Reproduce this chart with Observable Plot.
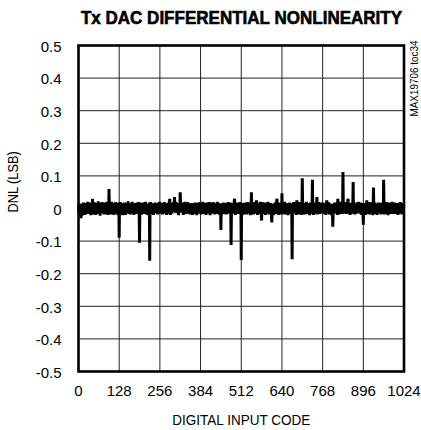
<!DOCTYPE html>
<html>
<head>
<meta charset="utf-8">
<script src="https://cdn.jsdelivr.net/npm/d3@7"></script>
<script src="https://cdn.jsdelivr.net/npm/@observablehq/plot@0.6"></script>
<style>
  html, body { margin: 0; padding: 0; background: #fff; }
  #chart { position: relative; width: 421px; height: 430px; }
  #title {
    position: absolute; top: 8px; left: 62px; width: 359px;
    height: 20px; line-height: 20px; text-align: center; white-space: nowrap;
    font-family: 'Liberation Sans', Arial, Helvetica, sans-serif;
    font-weight: bold; font-size: 18.5px; color: #000;
    -webkit-text-stroke: 0.6px #000;
    transform: scaleX(0.92); transform-origin: 50% 50%;
  }
</style>
</head>
<body>
<div id="chart"><div id="title"></div></div>
<script>
// ---- data ----
const title = "Tx DAC DIFFERENTIAL NONLINEARITY";
const xLabel = "DIGITAL INPUT CODE";
const yLabel = "DNL (LSB)";
const tag = "MAX19706 toc34";
const xTicks = [0, 128, 256, 384, 512, 640, 768, 896, 1024];
const yTicks = [-0.5, -0.4, -0.3, -0.2, -0.1, 0, 0.1, 0.2, 0.3, 0.4, 0.5];
const yTickLabels = ["-0.5", "-0.4", "-0.3", "-0.2", "-0.1", "0", "0.1", "0.2", "0.3", "0.4", "0.5"];

// small code-to-code DNL for codes 0..1023, in counts of noiseUnit LSB
const noiseUnit = 0.0013;
const noise = [
5,-8,12,-3,-14,9,2,-11,15,-6,3,-17,8,11,-4,-9,14,-12,1,7,-15,10,-2,6,-10,13,-7,4,-13,16,-5,0,
-9,11,-4,14,-12,3,8,-16,6,-1,12,-8,10,-14,2,9,-6,15,-11,4,-3,13,-15,7,-7,1,11,-13,5,-10,17,-2,
8,-12,3,10,-17,6,-5,13,-9,2,15,-4,-11,9,-1,12,-14,5,7,-8,14,-10,0,11,-6,-13,16,-3,4,-15,9,-7,
12,-5,-10,7,1,-14,11,-2,16,-9,4,-12,13,-6,8,-15,3,10,-1,-11,15,-7,6,-13,2,12,-8,9,-16,5,-4,14,
-3,9,-13,6,15,-8,-1,11,-12,4,10,-16,7,-5,13,-2,-10,14,-7,3,-15,8,12,-4,-11,6,1,-9,17,-6,2,-13,
10,-4,7,-14,3,12,-9,5,-1,16,-11,8,-6,2,-15,13,4,-8,11,-3,9,-13,6,-2,14,-10,-5,12,-7,1,15,-12,
-6,13,2,-10,8,-15,11,-3,5,-12,14,-7,0,9,-13,6,12,-5,-9,16,-2,7,-14,10,-4,3,11,-16,8,-1,-11,14,
7,-2,-12,15,-6,4,10,-13,1,8,-9,12,-15,3,6,-4,-11,14,-8,2,13,-10,5,-7,9,-14,12,-1,4,-12,16,-6,
-11,6,14,-5,-9,11,-3,8,-14,2,13,-10,7,-6,15,-1,3,-12,9,-4,11,-15,1,12,-8,5,-3,14,-13,7,10,-9,
4,-15,9,1,-7,13,-12,6,10,-3,-8,15,-5,11,-14,2,7,-10,16,-6,3,-11,8,-1,13,-9,5,-16,11,-4,2,9,
-13,8,-2,11,5,-10,14,-7,-4,12,-15,3,9,-1,-12,16,-6,4,10,-13,2,7,-9,15,-3,-11,6,12,-8,1,-14,10,
6,-9,13,-4,-11,7,1,-15,12,-6,3,10,-13,8,-2,14,-10,5,-7,11,-16,4,13,-5,0,9,-12,6,15,-8,-3,11,
-7,12,-14,5,9,-3,-10,16,-1,-13,8,4,-9,13,-6,2,11,-15,7,-2,14,-8,3,-11,10,-5,-12,15,-4,6,-16,8,
11,-1,-8,14,-12,6,3,-9,15,-4,-11,9,2,-14,12,-7,5,8,-13,1,-6,16,-10,4,-2,13,-9,7,-15,10,-3,12,
-5,10,-16,3,12,-7,8,-13,-2,14,-10,5,11,-4,-9,7,-14,1,13,-6,9,-12,4,15,-8,2,-11,6,-3,14,-13,0,
9,-14,5,-6,13,-2,-12,10,4,-8,16,-11,1,7,-15,12,-3,-9,11,-5,14,-1,-13,8,6,-10,12,-4,-7,15,-12,3,
-12,4,11,-9,6,-15,13,-1,-7,10,2,-13,14,-5,8,-10,12,-3,-14,9,-6,15,-2,5,-11,7,13,-8,3,-16,9,-4,
8,-6,-10,13,-3,11,-14,5,9,-12,4,15,-8,1,-11,14,-5,6,10,-15,12,-2,-7,9,3,-13,11,-1,16,-9,5,-12,
-2,15,-9,6,-13,1,12,-6,-10,8,14,-4,-15,10,-1,7,13,-11,3,-8,16,-5,9,-14,2,11,-7,4,-12,13,-4,-9,
13,-7,2,-12,9,5,-16,11,-3,-9,14,-6,8,-13,4,10,-8,15,-2,-10,6,12,-15,3,-5,9,-11,14,0,-7,11,-14,
-8,3,14,-11,-4,12,-6,9,16,-14,1,7,-10,13,-3,-12,10,-5,8,-16,11,2,-9,14,-6,4,-13,9,12,-2,-10,6,
10,-13,6,1,-9,15,-4,-11,7,12,-7,-2,14,-15,5,9,-12,3,11,-6,-1,13,-14,8,15,-8,-4,10,-11,2,7,-15,
-4,11,-12,8,13,-10,2,-6,-14,9,5,-1,-8,16,-11,4,6,-13,12,-3,-9,10,1,-16,11,-5,14,-9,3,8,-12,13,
3,-10,9,-15,7,-1,11,-12,14,-3,-6,13,-9,2,10,-14,8,-7,-4,15,-12,6,9,-2,-13,12,-5,1,-10,14,-6,7,
-10,14,-3,-8,12,-13,5,10,-6,1,-15,11,4,-9,13,-2,-11,8,15,-7,2,-14,12,-4,7,-12,3,9,-16,6,11,-5,
12,-6,-13,9,2,-11,14,-8,5,13,-4,-10,11,-1,-15,8,3,-9,12,-14,7,10,-6,1,-12,16,-3,-7,9,-13,4,12,
-14,7,10,-2,-12,6,-5,15,-9,3,12,-13,1,8,-10,14,-4,-11,6,13,-8,2,-15,11,9,-1,-13,5,14,-6,-8,10,
6,-11,15,-5,4,-14,9,-3,11,-8,-12,7,13,-4,2,-10,16,-6,-9,12,-2,5,-13,14,-7,10,1,-15,8,-3,12,-11,
-3,13,-7,-12,10,4,-15,8,-1,11,-9,14,-6,-13,7,3,-10,12,-5,9,-14,15,-2,-8,13,-11,6,2,-9,11,-16,5,
9,-5,-11,12,-8,14,1,-13,6,-2,10,-15,11,5,-7,-12,14,-4,3,-10,13,-9,7,-1,-14,8,12,-6,4,-12,15,-3,
-9,12,4,-14,7,-3,13,-10,2,15,-12,6,-5,10,-16,9,-1,-8,14,-11,5,12,-13,3,-6,11,-4,16,-10,1,8,-13,
11,-7,-2,14,-13,5,9,-11,-4,13,-9,2,12,-15,6,-3,10,-12,8,-6,15,-1,-10,13,-5,4,-14,9,-8,12,-3,7
];

// larger DNL errors at major code transitions (DNL in LSB)
const spikeCodes  = [8, 44, 96, 128, 192, 224, 287, 302, 320, 448, 480, 491, 512, 544, 560, 576, 608, 624, 640, 672, 687, 704, 736, 750, 781, 800, 816, 832, 848, 864, 896, 907, 928, 960];
const spikeValues = [-0.03, 0.03, 0.060, -0.090, -0.105, -0.160, 0.03, 0.035, 0.050, -0.066, -0.112, 0.03, -0.158, 0.050, 0.025, -0.037, -0.043, 0.03, 0.047, -0.156, 0.025, 0.093, 0.088, 0.035, 0.025, -0.056, 0.03, 0.112, 0.03, 0.081, -0.050, 0.025, 0.064, 0.088];

// ---- build table ----
const spikeMap = new Map(spikeCodes.map((c, i) => [c, spikeValues[i]]));
const table = noise.map((v, i) => ({code: i, dnl: spikeMap.has(i) ? spikeMap.get(i) : v * noiseUnit}));

const FONT = "'Liberation Sans', Arial, Helvetica, sans-serif";

document.getElementById("title").textContent = title;

const chart = Plot.plot({
  width: 421,
  height: 430,
  marginLeft: 78,
  marginRight: 17.5,
  marginTop: 45,
  marginBottom: 59,
  style: {fontFamily: FONT, fontSize: "15px", background: "transparent", color: "#000", overflow: "visible"},
  x: {domain: [0, 1024]},
  y: {domain: [-0.5, 0.5]},
  marks: [
    Plot.gridX(xTicks, {stroke: "#222", strokeOpacity: 1, strokeWidth: 1}),
    Plot.gridY(yTicks, {stroke: "#222", strokeOpacity: 1, strokeWidth: 1}),
    Plot.line(table, {x: "code", y: "dnl", stroke: "#000", strokeWidth: 3, strokeLinejoin: "miter", strokeMiterlimit: 1}),
    Plot.frame({stroke: "#000", strokeWidth: 2.6}),
    Plot.axisX(xTicks, {tickSize: 0, tickPadding: 14, tickFormat: d => String(d), label: null, fontSize: 15}),
    Plot.axisY(yTicks, {tickSize: 0, tickPadding: 17, tickFormat: d => yTickLabels[yTicks.indexOf(d)], label: null, fontSize: 15, dy: 1.5}),
    Plot.text([xLabel], {frameAnchor: "bottom", dy: 49, fontSize: 15, lineAnchor: "middle"}),
    Plot.text([yLabel], {frameAnchor: "left", dx: -65, dy: 4, rotate: -90, fontSize: 15, lineAnchor: "middle"}),
    Plot.text([tag], {frameAnchor: "top-right", dx: 10, dy: -5, rotate: -90, textAnchor: "end", lineAnchor: "middle", fontSize: 11})
  ]
});
document.getElementById("chart").appendChild(chart);

// condensed look: squeeze selected texts horizontally (text stays real text)
const squeeze = new Map([[xLabel, 0.9], [yLabel, 0.85], [tag, 0.9]]);
chart.querySelectorAll("text").forEach(t => {
  const k = squeeze.get(t.textContent);
  if (k) {
    const len = t.getComputedTextLength();
    t.setAttribute("textLength", (len * k).toFixed(1));
    t.setAttribute("lengthAdjust", "spacingAndGlyphs");
  }
});
</script>
</body>
</html>
